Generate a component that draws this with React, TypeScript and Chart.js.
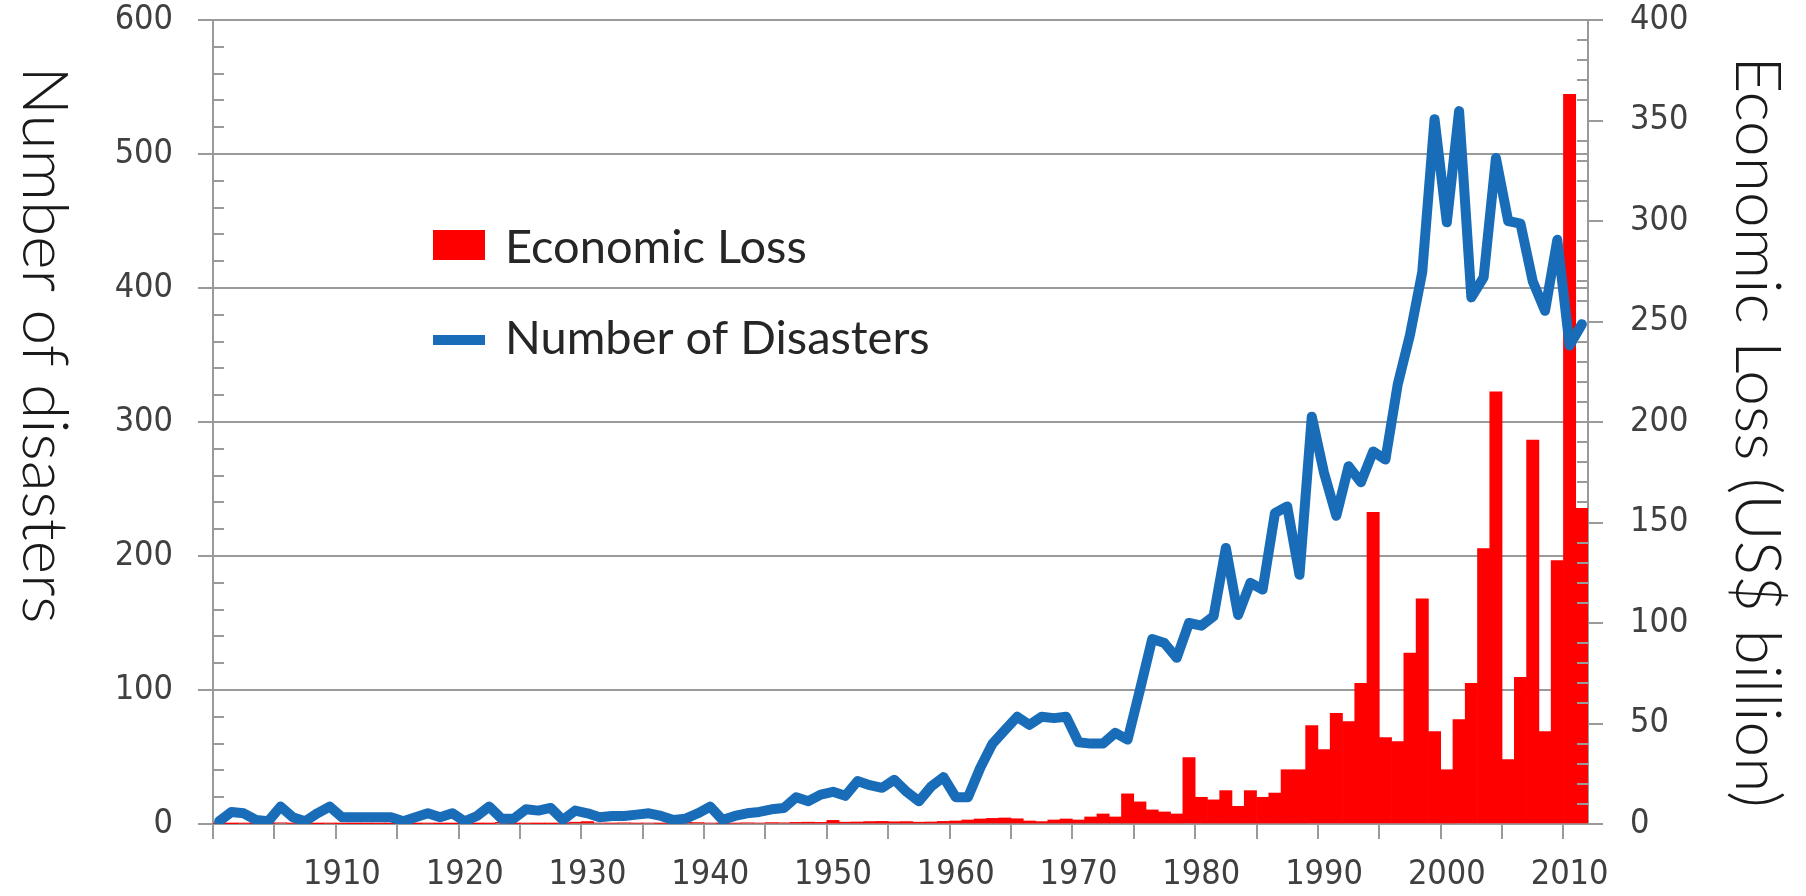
import { useEffect, useRef } from 'react';
import { Chart, registerables } from 'chart.js';

Chart.register(...registerables);

const years = [
  1900, 1901, 1902, 1903, 1904, 1905, 1906, 1907, 1908, 1909,
  1910, 1911, 1912, 1913, 1914, 1915, 1916, 1917, 1918, 1919,
  1920, 1921, 1922, 1923, 1924, 1925, 1926, 1927, 1928, 1929,
  1930, 1931, 1932, 1933, 1934, 1935, 1936, 1937, 1938, 1939,
  1940, 1941, 1942, 1943, 1944, 1945, 1946, 1947, 1948, 1949,
  1950, 1951, 1952, 1953, 1954, 1955, 1956, 1957, 1958, 1959,
  1960, 1961, 1962, 1963, 1964, 1965, 1966, 1967, 1968, 1969,
  1970, 1971, 1972, 1973, 1974, 1975, 1976, 1977, 1978, 1979,
  1980, 1981, 1982, 1983, 1984, 1985, 1986, 1987, 1988, 1989,
  1990, 1991, 1992, 1993, 1994, 1995, 1996, 1997, 1998, 1999,
  2000, 2001, 2002, 2003, 2004, 2005, 2006, 2007, 2008, 2009,
  2010, 2011,
];

const disasters = [
  2, 9, 8, 3, 2, 13, 5, 2, 8, 13,
  5, 5, 5, 5, 5, 2, 5, 8, 5, 8,
  2, 6, 13, 4, 4, 11, 10, 12, 3, 10,
  8, 5, 6, 6, 7, 8, 6, 3, 4, 8,
  13, 3, 6, 8, 9, 11, 12, 20, 17, 22,
  24, 21, 32, 29, 27, 33, 24, 17, 28, 35,
  20, 20, 42, 60, 70, 80, 74, 80, 79, 80,
  61, 60, 60, 68, 63, 100, 138, 135, 124, 150,
  148, 155, 206, 156, 180, 175, 232, 237, 186, 304,
  262, 230, 267, 255, 278, 272, 328, 365, 412, 526,
  449, 532, 393, 408, 497, 450, 448, 405, 383, 436,
  357, 373,
];

const economicLoss = [
  0.2, 0.1, 0.3, 0.1, 0.2, 0.6, 0.3, 0.2, 0.1, 0.3,
  0.2, 0.1, 0.1, 0.2, 0.1, 0.1, 0.1, 0.3, 0.1, 0.1,
  0.2, 0.1, 0.2, 0.8, 0.2, 0.3, 0.2, 0.2, 0.3, 0.9,
  1.2, 0.5, 0.4, 0.6, 0.4, 0.5, 0.3, 0.4, 0.8, 0.7,
  0.5, 0.3, 0.4, 0.6, 0.5, 0.7, 0.6, 0.8, 0.9, 0.8,
  1.8, 0.9, 1.0, 1.2, 1.3, 1.1, 1.2, 0.9, 1.0, 1.3,
  1.5, 2.0, 2.5, 2.8, 3.0, 2.6, 1.5, 1.2, 2.0, 2.5,
  2.0, 3.5, 5.0, 3.5, 15, 11, 7, 6, 5, 33,
  13.3, 12, 16.6, 8.8, 16.6, 13.3, 15.4, 27, 27, 49,
  37, 55, 51, 70, 155, 43, 41, 85, 112, 46,
  27, 52, 70, 137, 215, 32, 73, 191, 46, 131,
  363, 157,
];

const LEFT_TITLE = 'Number of disasters';
const RIGHT_TITLE = 'Economic Loss (US$ billion)';
const BAR_LABEL = 'Economic Loss';
const LINE_LABEL = 'Number of Disasters';

const RED = '#ff0000';
const BLUE = '#196db8';
const GRID = '#9a9a9a';
const TICK_TEXT = '#404040';
const TICK_FONT = "'DejaVu Sans Condensed', 'DejaVu Sans', sans-serif";
const TEXT_FONT = "Lato, 'Open Sans', sans-serif";

const overlayPlugin = {
  id: 'overlay',
  afterDraw(chart: any) {
    const ctx = chart.ctx;
    const area = chart.chartArea;
    const yS = chart.scales.y;
    const y1S = chart.scales.y1;
    ctx.save();
    // minor ticks (inside the plot)
    ctx.strokeStyle = GRID;
    ctx.lineWidth = 2;
    ctx.beginPath();
    for (let v = 20; v < 600; v += 20) {
      if (v % 100 === 0) continue;
      const py = Math.round(yS.getPixelForValue(v));
      ctx.moveTo(area.left, py);
      ctx.lineTo(area.left + 11, py);
    }
    for (let v = 10; v < 400; v += 10) {
      if (v % 50 === 0) continue;
      const py = Math.round(y1S.getPixelForValue(v));
      ctx.moveTo(area.right - 11, py);
      ctx.lineTo(area.right, py);
    }
    ctx.stroke();

    // axis titles (both read top to bottom)
    ctx.fillStyle = '#1a1a1a';
    ctx.font = `300 64px ${TEXT_FONT}`;
    ctx.textAlign = 'center';
    ctx.textBaseline = 'middle';
    ctx.save();
    ctx.translate(44, 345);
    ctx.rotate(Math.PI / 2);
    ctx.fillText(LEFT_TITLE, 0, 0);
    ctx.restore();
    ctx.save();
    ctx.translate(1757, 432);
    ctx.rotate(Math.PI / 2);
    ctx.fillText(RIGHT_TITLE, 0, 0);
    ctx.restore();

    // legend
    ctx.fillStyle = RED;
    ctx.fillRect(433, 230, 52, 30);
    ctx.strokeStyle = BLUE;
    ctx.lineWidth = 10;
    ctx.beginPath();
    ctx.moveTo(433, 340);
    ctx.lineTo(485, 340);
    ctx.stroke();
    ctx.fillStyle = '#262626';
    ctx.font = `47px ${TEXT_FONT}`;
    ctx.textAlign = 'left';
    ctx.textBaseline = 'middle';
    ctx.fillText(BAR_LABEL, 505, 248);
    ctx.fillText(LINE_LABEL, 505, 339);
    ctx.restore();
  },
};

export default function App() {
  const ref = useRef<HTMLCanvasElement>(null);

  useEffect(() => {
    document.body.style.margin = '0';
    document.body.style.overflow = 'hidden';
    const canvas = ref.current;
    if (!canvas) return;
    const chart = new Chart(canvas, {
      type: 'bar',
      data: {
        labels: years,
        datasets: [
          {
            type: 'line',
            label: LINE_LABEL,
            data: disasters,
            yAxisID: 'y',
            borderColor: BLUE,
            backgroundColor: BLUE,
            borderWidth: 10,
            pointRadius: 0,
            tension: 0,
            borderJoinStyle: 'round',
            borderCapStyle: 'round',
            order: 0,
          } as any,
          {
            type: 'bar',
            label: BAR_LABEL,
            data: economicLoss,
            yAxisID: 'y1',
            backgroundColor: RED,
            borderWidth: 0,
            barPercentage: 1,
            categoryPercentage: 1,
            order: 1,
          } as any,
        ],
      },
      options: {
        animation: false,
        responsive: true,
        maintainAspectRatio: false,
        layout: { padding: { top: 20, left: 0, right: 0, bottom: 0 } },
        plugins: {
          legend: { display: false },
          tooltip: { enabled: false },
        },
        scales: {
          x: {
            type: 'category',
            offset: true,
            grid: {
              offset: true,
              drawOnChartArea: false,
              drawTicks: true,
              tickLength: 15,
              lineWidth: 2,
              color: (c: any) => (c.index % 5 === 0 ? GRID : 'rgba(0,0,0,0)'),
            },
            border: { display: true, color: GRID, width: 2 },
            ticks: {
              autoSkip: false,
              maxRotation: 0,
              minRotation: 0,
              padding: 16,
              color: TICK_TEXT,
              font: { family: TICK_FONT, size: 34 },
              callback: (_v: any, i: number) =>
                years[i] % 10 === 0 && i > 0 ? String(years[i]) : '',
            },
            afterFit: (s: any) => {
              s.height = 72;
              s.paddingLeft = 0;
              s.paddingRight = 0;
            },
          },
          y: {
            position: 'left',
            min: 0,
            max: 600,
            ticks: {
              stepSize: 100,
              padding: 25,
              color: TICK_TEXT,
              font: { family: TICK_FONT, size: 34 },
            },
            grid: { color: GRID, lineWidth: 2, tickLength: 15, drawTicks: true },
            border: { display: true, color: GRID, width: 2 },
            afterFit: (s: any) => {
              s.width = 213;
              s.paddingTop = 0;
              s.paddingBottom = 0;
            },
          },
          y1: {
            position: 'right',
            min: 0,
            max: 400,
            ticks: {
              stepSize: 50,
              padding: 27,
              color: TICK_TEXT,
              font: { family: TICK_FONT, size: 34 },
            },
            grid: {
              drawOnChartArea: false,
              color: GRID,
              lineWidth: 2,
              tickLength: 15,
              drawTicks: true,
            },
            border: { display: true, color: GRID, width: 2 },
            afterFit: (s: any) => {
              s.width = 218;
              s.paddingTop = 0;
              s.paddingBottom = 0;
            },
          },
        },
      },
      plugins: [overlayPlugin],
    });
    return () => chart.destroy();
  }, []);

  return (
    <div style={{ width: 1806, height: 896, position: 'relative' }}>
      <canvas ref={ref} />
    </div>
  );
}
